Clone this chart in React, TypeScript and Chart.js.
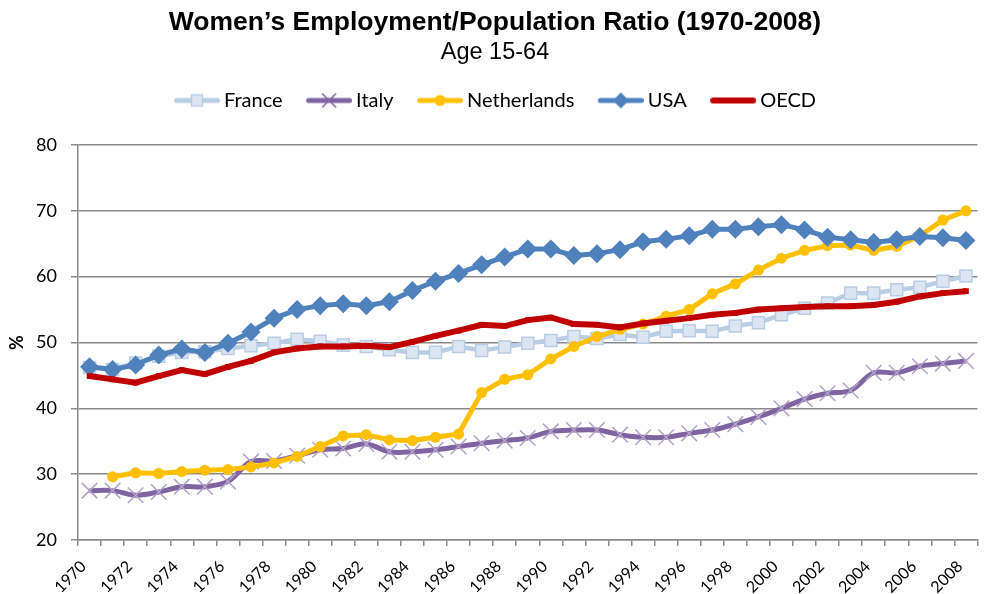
import React, { useEffect, useRef } from 'react';
import { Chart, registerables } from 'chart.js';

Chart.register(...registerables);

const YEARS = [
  '1970', '1971', '1972', '1973', '1974', '1975', '1976', '1977', '1978', '1979',
  '1980', '1981', '1982', '1983', '1984', '1985', '1986', '1987', '1988', '1989',
  '1990', '1991', '1992', '1993', '1994', '1995', '1996', '1997', '1998', '1999',
  '2000', '2001', '2002', '2003', '2004', '2005', '2006', '2007', '2008',
];

const FRANCE = [
  46.2, 45.9, 46.9, 47.9, 48.5, 48.6, 49.1, 49.5, 49.9, 50.5,
  50.2, 49.6, 49.4, 48.9, 48.5, 48.5, 49.4, 48.8, 49.3, 49.9,
  50.3, 50.9, 50.6, 51.2, 50.8, 51.7, 51.8, 51.7, 52.5, 53.0,
  54.2, 55.2, 56.0, 57.5, 57.5, 58.0, 58.4, 59.3, 60.1,
];

const ITALY = [
  27.5, 27.5, 26.8, 27.3, 28.1, 28.1, 28.9, 31.9, 32.0, 32.8,
  33.7, 33.9, 34.6, 33.4, 33.4, 33.7, 34.2, 34.7, 35.1, 35.5,
  36.5, 36.7, 36.7, 36.0, 35.6, 35.6, 36.2, 36.7, 37.6, 38.7,
  40.0, 41.4, 42.3, 42.7, 45.4, 45.4, 46.4, 46.8, 47.2,
];

const NETHERLANDS = [
  null, 29.6, 30.2, 30.1, 30.4, 30.6, 30.7, 31.1, 31.7, 32.7,
  34.2, 35.8, 36.0, 35.2, 35.1, 35.6, 36.1, 42.4, 44.4, 45.1,
  47.5, 49.4, 50.9, 52.0, 52.8, 54.0, 55.0, 57.4, 58.9, 61.0,
  62.8, 64.0, 64.7, 64.8, 64.0, 64.6, 66.2, 68.6, 70.0,
];

const USA = [
  46.3, 45.9, 46.6, 48.1, 49.0, 48.5, 49.9, 51.6, 53.7, 55.0,
  55.6, 55.9, 55.6, 56.2, 57.9, 59.3, 60.5, 61.8, 63.0, 64.2,
  64.2, 63.2, 63.5, 64.1, 65.3, 65.7, 66.2, 67.2, 67.2, 67.6,
  67.9, 67.1, 66.0, 65.6, 65.2, 65.6, 66.1, 65.9, 65.5,
];

const OECD = [
  44.9, 44.4, 43.9, 44.9, 45.8, 45.2, 46.3, 47.2, 48.5, 49.1,
  49.4, 49.4, 49.5, 49.3, 50.1, 51.0, 51.8, 52.7, 52.5, 53.4,
  53.8, 52.8, 52.7, 52.3, 52.9, 53.3, 53.7, 54.2, 54.5, 55.0,
  55.2, 55.4, 55.5, 55.5, 55.7, 56.2, 57.0, 57.5, 57.8,
];

const SERIES_NAMES = ['France', 'Italy', 'Netherlands', 'USA', 'OECD'];

const Y_MIN = 20;
const Y_MAX = 80;
const Y_STEP = 10;

const TITLE = 'Women\u2019s Employment/Population Ratio (1970-2008)';
const SUBTITLE = 'Age 15-64';
const Y_TITLE = '%';

const GRID = '#8a8a8a';
const SANS = 'Lato, "Open Sans", sans-serif';
const ARIAL = '"Liberation Sans", Arial, sans-serif';

type MarkerFn = (ctx: CanvasRenderingContext2D, x: number, y: number) => void;

function legendImage(color: string, width: number, marker?: MarkerFn) {
  const c = document.createElement('canvas');
  c.width = 52;
  c.height = 22;
  const ctx = c.getContext('2d')!;
  ctx.strokeStyle = color;
  ctx.lineWidth = width;
  ctx.lineCap = 'round';
  ctx.beginPath();
  ctx.moveTo(6 + width / 2, 11);
  ctx.lineTo(52 - width / 2, 11);
  ctx.stroke();
  if (marker) marker(ctx, 29, 11);
  return c;
}

export default function App() {
  const ref = useRef<HTMLCanvasElement | null>(null);

  useEffect(() => {
    document.body.style.margin = '0';
    const canvas = ref.current;
    if (!canvas) return;

    const images = [
      legendImage('#B9CDE5', 5, (ctx, x, y) => {
        ctx.fillStyle = '#DCE6F2';
        ctx.strokeStyle = '#B9CDE5';
        ctx.lineWidth = 1.5;
        ctx.fillRect(x - 5.5, y - 5.5, 11, 11);
        ctx.strokeRect(x - 5.5, y - 5.5, 11, 11);
      }),
      legendImage('#8064A2', 5, (ctx, x, y) => {
        ctx.strokeStyle = '#8064A2';
        ctx.lineWidth = 1.5;
        ctx.lineCap = 'butt';
        ctx.beginPath();
        ctx.moveTo(x - 7, y - 7);
        ctx.lineTo(x + 7, y + 7);
        ctx.moveTo(x + 7, y - 7);
        ctx.lineTo(x - 7, y + 7);
        ctx.stroke();
      }),
      legendImage('#FFC000', 5, (ctx, x, y) => {
        ctx.fillStyle = '#FFC000';
        ctx.beginPath();
        ctx.arc(x, y, 5.5, 0, Math.PI * 2);
        ctx.fill();
      }),
      legendImage('#4F81BD', 5, (ctx, x, y) => {
        ctx.fillStyle = '#4F81BD';
        ctx.beginPath();
        ctx.moveTo(x, y - 8);
        ctx.lineTo(x + 8, y);
        ctx.lineTo(x, y + 8);
        ctx.lineTo(x - 8, y);
        ctx.closePath();
        ctx.fill();
      }),
      legendImage('#C00000', 6),
    ];

    const chart = new Chart(canvas, {
      type: 'line',
      data: {
        labels: YEARS,
        datasets: [
          {
            label: SERIES_NAMES[0],
            data: FRANCE,
            xAxisID: 'x',
            yAxisID: 'y',
            borderColor: '#B9CDE5',
            borderWidth: 4.5,
            pointStyle: 'rect',
            pointRadius: 8.5,
            pointBackgroundColor: '#DCE6F2',
            pointBorderColor: '#B9CDE5',
            pointBorderWidth: 1.5,
            tension: 0,
            order: 5,
          },
          {
            label: SERIES_NAMES[1],
            data: ITALY,
            xAxisID: 'x',
            yAxisID: 'y',
            borderColor: '#8064A2',
            borderWidth: 5,
            pointStyle: 'crossRot',
            pointRadius: 11,
            pointBorderColor: '#B3A2C7',
            pointBackgroundColor: '#B3A2C7',
            pointBorderWidth: 1.5,
            tension: 0.35,
            order: 4,
          },
          {
            label: SERIES_NAMES[2],
            data: NETHERLANDS,
            xAxisID: 'x',
            yAxisID: 'y',
            borderColor: '#FFC000',
            borderWidth: 5,
            pointStyle: 'circle',
            pointRadius: 5.5,
            pointBackgroundColor: '#FFC000',
            pointBorderColor: '#FFC000',
            pointBorderWidth: 0,
            tension: 0,
            order: 3,
          },
          {
            label: SERIES_NAMES[3],
            data: USA,
            xAxisID: 'x',
            yAxisID: 'y',
            borderColor: '#4F81BD',
            borderWidth: 5,
            pointStyle: 'rectRot',
            pointRadius: 9.5,
            pointBackgroundColor: '#4F81BD',
            pointBorderColor: '#4F81BD',
            pointBorderWidth: 0,
            tension: 0,
            order: 2,
          },
          {
            label: SERIES_NAMES[4],
            data: OECD,
            xAxisID: 'x',
            yAxisID: 'y',
            borderColor: '#C00000',
            borderWidth: 6,
            pointStyle: 'rect',
            pointRadius: 4,
            pointBackgroundColor: '#C00000',
            pointBorderWidth: 0,
            tension: 0,
            order: 1,
          },
        ],
      },
      options: {
        responsive: false,
        animation: false,
        layout: { padding: 0 },
        font: { family: SANS },
        plugins: {
          tooltip: { enabled: false },
          title: {
            display: true,
            text: TITLE,
            color: '#000',
            font: { family: ARIAL, size: 26.5, weight: 'bold', lineHeight: 1.2 },
            padding: { top: 7, bottom: 0 },
          },
          subtitle: {
            display: true,
            text: SUBTITLE,
            color: '#000',
            font: { family: ARIAL, size: 23.5, weight: 'normal', lineHeight: 1.2 },
            padding: { top: 0, bottom: 0 },
          },
          legend: {
            display: true,
            position: 'top',
            labels: {
              usePointStyle: true,
              pointStyleWidth: 40,
              padding: 23.5,
              color: '#000',
              font: { family: SANS, size: 20 },
              generateLabels: () =>
                SERIES_NAMES.map((name, i) => ({
                  text: name,
                  pointStyle: images[i],
                  fillStyle: 'transparent',
                  strokeStyle: 'transparent',
                  lineWidth: 0,
                  hidden: false,
                  datasetIndex: i,
                  fontColor: '#000',
                })),
            },
          },
        },
        scales: {
          x: {
            type: 'category',
            position: 'bottom',
            offset: true,
            grid: {
              display: true,
              offset: true,
              drawOnChartArea: false,
              drawTicks: true,
              tickLength: 6,
              color: GRID,
              lineWidth: 1.5,
            },
            border: { display: true, color: GRID, width: 1.5 },
            ticks: {
              autoSkip: false,
              maxRotation: 45,
              minRotation: 45,
              padding: 11,
              labelOffset: -6,
              color: '#000',
              font: { family: SANS, size: 16 },
              callback: (_v: any, i: number) => (i % 2 === 0 ? YEARS[i] : ''),
            },
            afterFit: (s: any) => {
              s.height = 54;
              s.paddingLeft = 0;
              s.paddingRight = 0;
            },
          },
          xTop: {
            type: 'category',
            position: 'top',
            display: true,
            grid: { display: false },
            border: { display: false },
            ticks: { display: false },
            afterFit: (s: any) => {
              s.height = 24.5;
              s.paddingLeft = 0;
              s.paddingRight = 0;
            },
          },
          y: {
            type: 'linear',
            position: 'left',
            min: Y_MIN,
            max: Y_MAX,
            ticks: {
              stepSize: Y_STEP,
              padding: 14,
              color: '#000',
              font: { family: SANS, size: 18 },
            },
            grid: {
              color: GRID,
              lineWidth: 1.5,
              drawTicks: true,
              tickLength: 7,
            },
            border: { display: true, color: GRID, width: 1.5 },
            title: {
              display: true,
              text: Y_TITLE,
              color: '#000',
              font: { family: SANS, size: 18, weight: 'bold', lineHeight: 1.2 },
              padding: { top: 6.5, bottom: 0 },
            },
            afterFit: (s: any) => {
              s.width = 78;
            },
          },
        },
      },
    } as any);

    return () => chart.destroy();
  }, []);

  return <canvas ref={ref} width={990} height={594} style={{ display: 'block' }} />;
}
